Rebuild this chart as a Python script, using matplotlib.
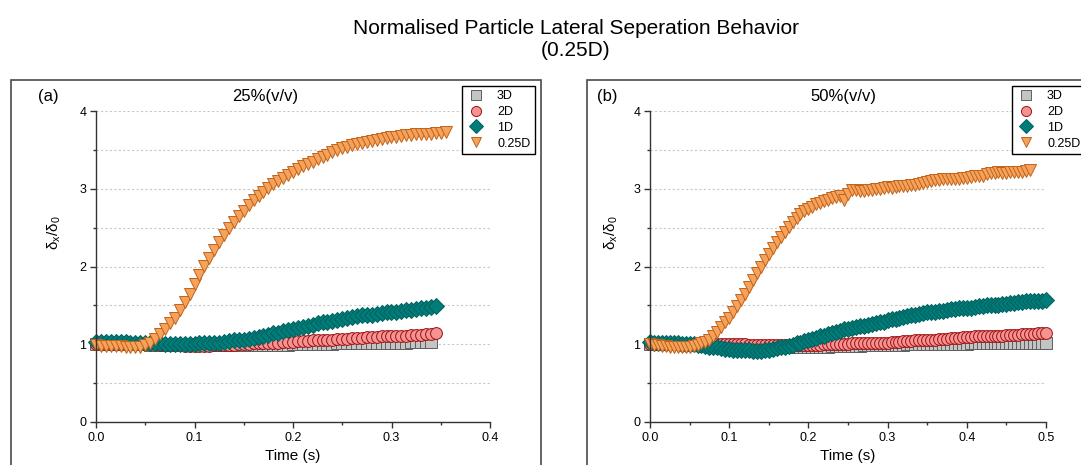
import matplotlib
matplotlib.use("Agg")
import matplotlib.pyplot as plt
import numpy as np
from matplotlib.patches import Rectangle
from matplotlib.ticker import MultipleLocator

plt.rcParams["font.family"] = ["Liberation Sans", "DejaVu Sans"]
plt.rcParams["mathtext.fontset"] = "custom"
plt.rcParams["mathtext.rm"] = "Liberation Sans"
plt.rcParams["mathtext.it"] = "Liberation Sans"
plt.rcParams["mathtext.default"] = "regular"

# sampling step of the exported data (s)
dt = 0.005

# ---- (a) 25%(v/v) ----
a_3d = [1.00, 1.00, 1.00, 1.00, 1.00, 1.00, 1.00, 1.00, 1.00, 1.00,
        1.00, 0.99, 0.99, 0.99, 0.99, 0.99, 0.99, 0.99, 0.99, 0.99,
        0.99, 0.99, 0.99, 0.99, 0.99, 0.99, 0.99, 0.99, 0.99, 0.99,
        0.99, 0.99, 0.99, 0.99, 0.99, 0.99, 0.99, 0.99, 0.99, 0.99,
        1.00, 1.00, 1.00, 1.00, 1.00, 1.00, 1.00, 1.00, 1.00, 1.01,
        1.01, 1.01, 1.01, 1.01, 1.01, 1.01, 1.01, 1.02, 1.02, 1.02,
        1.02, 1.02, 1.02, 1.02, 1.03, 1.03, 1.03, 1.03, 1.03]
a_2d = [1.00, 1.00, 1.00, 1.00, 1.00, 1.00, 1.00, 1.00, 1.00, 1.00,
        1.00, 1.00, 1.00, 0.99, 0.99, 0.99, 0.99, 0.99, 0.98, 0.98,
        0.98, 0.98, 0.98, 0.98, 0.99, 0.99, 0.99, 0.99, 0.99, 1.00,
        1.00, 1.00, 1.01, 1.01, 1.01, 1.02, 1.02, 1.02, 1.03, 1.03,
        1.03, 1.04, 1.04, 1.04, 1.05, 1.05, 1.06, 1.06, 1.06, 1.07,
        1.07, 1.07, 1.08, 1.08, 1.08, 1.09, 1.09, 1.09, 1.10, 1.10,
        1.10, 1.11, 1.11, 1.11, 1.12, 1.12, 1.12, 1.13, 1.13, 1.14]
a_1d = [1.03, 1.03, 1.03, 1.03, 1.03, 1.03, 1.03, 1.02, 1.02, 1.02,
        1.02, 1.01, 1.01, 1.01, 1.00, 1.00, 1.00, 1.00, 1.00, 1.00,
        1.00, 1.01, 1.01, 1.01, 1.02, 1.02, 1.03, 1.04, 1.05, 1.06,
        1.06, 1.07, 1.08, 1.09, 1.11, 1.12, 1.14, 1.15, 1.17, 1.18,
        1.20, 1.21, 1.22, 1.24, 1.25, 1.27, 1.28, 1.29, 1.30, 1.31,
        1.32, 1.34, 1.35, 1.36, 1.37, 1.38, 1.38, 1.39, 1.40, 1.41,
        1.41, 1.42, 1.43, 1.44, 1.44, 1.45, 1.46, 1.47, 1.48, 1.49]
a_025d = [0.99, 0.98, 0.98, 0.98, 0.98, 0.98, 0.97, 0.97, 0.97, 0.97,
          0.99, 1.02, 1.07, 1.13, 1.19, 1.27, 1.34, 1.44, 1.54, 1.65,
          1.77, 1.89, 2.01, 2.11, 2.21, 2.31, 2.40, 2.49, 2.57, 2.65,
          2.72, 2.79, 2.85, 2.91, 2.96, 3.01, 3.06, 3.10, 3.14, 3.18,
          3.22, 3.25, 3.29, 3.32, 3.35, 3.38, 3.41, 3.44, 3.47, 3.50,
          3.52, 3.54, 3.56, 3.57, 3.59, 3.60, 3.62, 3.63, 3.64, 3.65,
          3.66, 3.67, 3.68, 3.69, 3.69, 3.70, 3.70, 3.71, 3.71, 3.72,
          3.72, 3.73]

# ---- (b) 50%(v/v) ----
b_3d = [1.00, 1.00, 1.00, 1.00, 1.00, 1.00, 1.00, 1.00, 1.00, 0.99,
        0.99, 0.99, 0.99, 0.99, 0.99, 0.99, 0.99, 0.99, 0.99, 0.98,
        0.98, 0.98, 0.98, 0.98, 0.98, 0.98, 0.98, 0.98, 0.98, 0.97,
        0.97, 0.97, 0.97, 0.97, 0.97, 0.97, 0.97, 0.97, 0.97, 0.97,
        0.97, 0.97, 0.97, 0.97, 0.97, 0.97, 0.98, 0.98, 0.98, 0.98,
        0.98, 0.98, 0.98, 0.98, 0.99, 0.99, 0.99, 0.99, 0.99, 0.99,
        0.99, 0.99, 0.99, 0.99, 0.99, 1.00, 1.00, 1.00, 1.00, 1.00,
        1.00, 1.00, 1.00, 1.00, 1.00, 1.00, 1.00, 1.00, 1.00, 1.00,
        1.00, 1.01, 1.01, 1.01, 1.01, 1.01, 1.01, 1.01, 1.01, 1.01,
        1.01, 1.01, 1.02, 1.02, 1.02, 1.02, 1.02, 1.02, 1.02, 1.02,
        1.02]
b_2d = [1.00, 1.00, 1.00, 1.00, 1.00, 1.00, 1.00, 1.00, 1.00, 1.00,
        1.00, 1.00, 1.00, 1.00, 1.00, 1.00, 1.00, 1.00, 1.00, 1.00,
        1.00, 1.00, 1.00, 1.00, 1.00, 0.99, 0.99, 0.99, 0.99, 0.99,
        0.99, 0.99, 0.99, 0.99, 0.99, 0.99, 0.99, 0.99, 0.99, 0.99,
        0.99, 0.99, 0.99, 0.99, 1.00, 1.00, 1.00, 1.00, 1.00, 1.00,
        1.00, 1.01, 1.01, 1.01, 1.01, 1.01, 1.02, 1.02, 1.02, 1.02,
        1.02, 1.03, 1.03, 1.03, 1.04, 1.04, 1.04, 1.05, 1.05, 1.05,
        1.06, 1.06, 1.06, 1.07, 1.07, 1.07, 1.08, 1.08, 1.08, 1.09,
        1.09, 1.09, 1.10, 1.10, 1.10, 1.10, 1.11, 1.11, 1.11, 1.11,
        1.12, 1.12, 1.12, 1.12, 1.13, 1.13, 1.13, 1.13, 1.14, 1.14,
        1.14]
b_1d = [1.03, 1.02, 1.02, 1.02, 1.01, 1.01, 1.01, 1.01, 1.00, 1.00,
        1.00, 1.00, 0.99, 0.99, 0.98, 0.97, 0.96, 0.96, 0.95, 0.94,
        0.94, 0.93, 0.93, 0.92, 0.92, 0.92, 0.91, 0.91, 0.91, 0.92,
        0.93, 0.94, 0.95, 0.96, 0.97, 0.98, 0.99, 1.01, 1.02, 1.04,
        1.05, 1.07, 1.08, 1.10, 1.11, 1.13, 1.14, 1.16, 1.17, 1.19,
        1.20, 1.21, 1.22, 1.23, 1.24, 1.25, 1.26, 1.27, 1.28, 1.29,
        1.31, 1.32, 1.33, 1.34, 1.35, 1.36, 1.37, 1.38, 1.39, 1.40,
        1.41, 1.41, 1.42, 1.43, 1.43, 1.44, 1.45, 1.45, 1.46, 1.46,
        1.47, 1.47, 1.48, 1.49, 1.49, 1.50, 1.50, 1.51, 1.51, 1.52,
        1.52, 1.53, 1.53, 1.54, 1.54, 1.55, 1.55, 1.56, 1.56, 1.56,
        1.57]
b_025d = [1.00, 0.99, 0.99, 0.98, 0.98, 0.97, 0.97, 0.96, 0.96, 0.96,
          0.97, 0.98, 0.99, 1.01, 1.03, 1.06, 1.10, 1.16, 1.22, 1.28,
          1.34, 1.41, 1.49, 1.57, 1.65, 1.73, 1.82, 1.91, 2.00, 2.08,
          2.16, 2.24, 2.31, 2.38, 2.45, 2.51, 2.57, 2.62, 2.67, 2.71,
          2.74, 2.77, 2.80, 2.82, 2.84, 2.86, 2.88, 2.90, 2.91, 2.86,
          2.93, 2.98, 2.98, 2.97, 2.97, 2.98, 2.99, 3.00, 3.00, 3.01,
          3.02, 3.01, 3.02, 3.03, 3.04, 3.04, 3.05, 3.05, 3.06, 3.08,
          3.09, 3.10, 3.11, 3.11, 3.12, 3.12, 3.12, 3.13, 3.13, 3.14,
          3.14, 3.15, 3.16, 3.17, 3.17, 3.19, 3.20, 3.20, 3.21, 3.20,
          3.20, 3.21, 3.21, 3.22, 3.22, 3.23, 3.24]

labels = ["3D", "2D", "1D", "0.25D"]
markers = ["s", "o", "D", "v"]
faces = ["#C4C4C4", "#F59292", "#007C79", "#F6A25A"]
edges = ["#5E5E5E", "#9C1010", "#00615F", "#C0631A"]

W, H = 1081, 465
fig = plt.figure(figsize=(W / 100, H / 100), dpi=100)


def fx(px):
    return px / W


def fy(py):
    return 1 - py / H


panels = [
    dict(series=[a_3d, a_2d, a_1d, a_025d], xmax=0.4, left=96, right=490,
         tag="(a)", tag_x=48, title="25%(v/v)", title_x=265, frame=(11, 541),
         leg_x=462, ylab_x=63),
    dict(series=[b_3d, b_2d, b_1d, b_025d], xmax=0.5, left=650, right=1046,
         tag="(b)", tag_x=607, title="50%(v/v)", title_x=843, frame=(587, 1100),
         leg_x=1012, ylab_x=620),
]

top, bottom = 111, 422

for p in panels:
    ax = fig.add_axes([fx(p["left"]), fy(bottom), fx(p["right"] - p["left"]),
                       (bottom - top) / H])
    for vals, lab, m, fc, ec in zip(p["series"], labels, markers, faces, edges):
        t = np.arange(len(vals)) * dt
        ax.plot(t, vals, ls="none", marker=m, ms=8.5, mfc=fc, mec=ec, mew=0.7,
                label=lab, clip_on=False)

    ax.set_xlim(0, p["xmax"])
    ax.set_ylim(0, 4)
    ax.xaxis.set_major_locator(MultipleLocator(0.1))
    ax.xaxis.set_minor_locator(MultipleLocator(0.05))
    ax.yaxis.set_major_locator(MultipleLocator(1))
    ax.yaxis.set_minor_locator(MultipleLocator(0.5))
    ax.xaxis.set_major_formatter(lambda v, pos: f"{v:.1f}")
    for s in ["top", "right"]:
        ax.spines[s].set_visible(False)
    for s in ["left", "bottom"]:
        ax.spines[s].set_color("#333333")
        ax.spines[s].set_linewidth(1.0)
    ax.tick_params(which="major", direction="out", length=4, width=1,
                   color="#333333", labelsize=9, pad=3)
    ax.tick_params(which="minor", direction="out", length=2.5, width=1,
                   color="#333333")
    ax.grid(axis="y", which="both", ls=(0, (2, 2)), color="#C8C8C8", lw=0.8)
    ax.set_axisbelow(True)
    ax.set_xlabel("Time (s)", fontsize=11, labelpad=4)
    ax.set_ylabel("$δ_x/δ_0$", fontsize=11)
    ax.yaxis.set_label_coords(fx(p["ylab_x"]), 0.5, transform=fig.transFigure)

    leg = ax.legend(loc="upper left", bbox_to_anchor=(fx(p["leg_x"]), fy(86)),
                    bbox_transform=fig.transFigure, borderaxespad=0,
                    fontsize=9, numpoints=1, fancybox=False, framealpha=1,
                    edgecolor="black", handlelength=1.6, handletextpad=0.85,
                    labelspacing=0.3, borderpad=0.35, markerscale=0.85)
    leg.get_frame().set_linewidth(1.0)

    fig.text(fx(p["tag_x"]), fy(97), p["tag"], ha="center", va="center",
             fontsize=12)
    fig.text(fx(p["title_x"]), fy(97), p["title"], ha="center", va="center",
             fontsize=12)

    x0, x1 = p["frame"]
    fig.add_artist(Rectangle((fx(x0), fy(500)), fx(x1 - x0), (500 - 80) / H,
                             transform=fig.transFigure, fill=False,
                             edgecolor="#4A4A4A", lw=1.2, clip_on=False))

fig.text(fx(576), fy(29), "Normalised Particle Lateral Seperation Behavior",
         ha="center", va="center", fontsize=15)
fig.text(fx(576), fy(51), "(0.25D)", ha="center", va="center", fontsize=15)

fig.savefig("out.png", dpi=100)
